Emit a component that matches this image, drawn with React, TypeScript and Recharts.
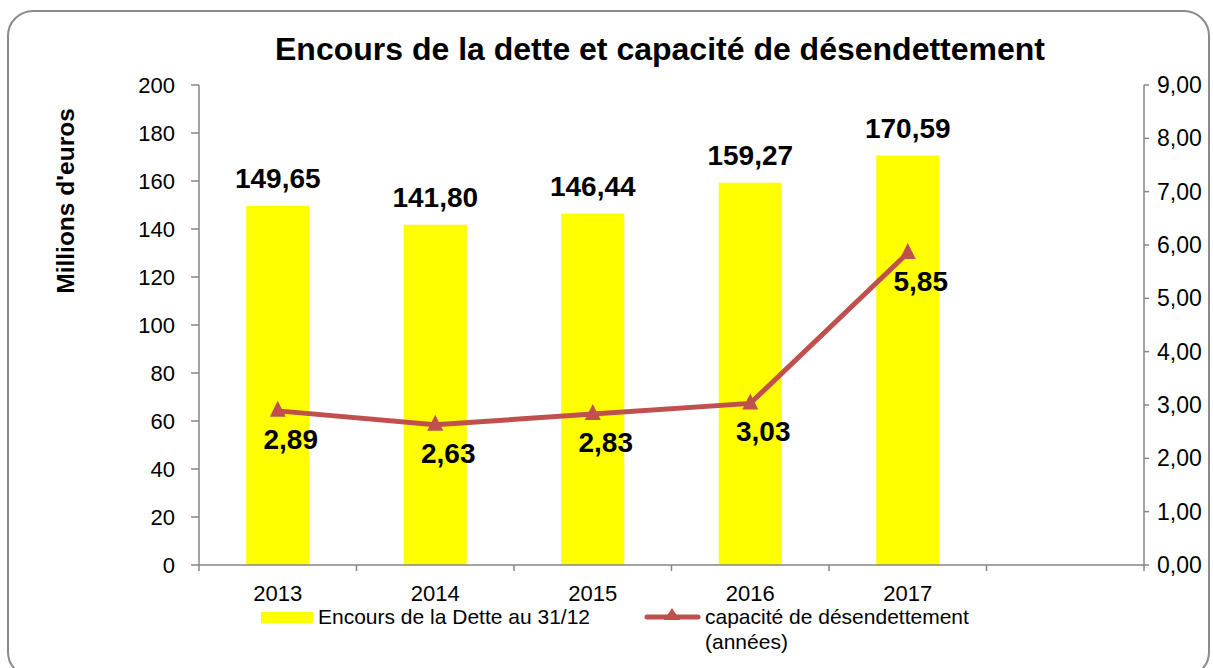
import { ComposedChart, Bar, Line, XAxis, YAxis, LabelList, Legend } from "recharts";

const years = ["2013", "2014", "2015", "2016", "2017", ""];
const encours = [149.65, 141.8, 146.44, 159.27, 170.59, null];
const capacite = [2.89, 2.63, 2.83, 3.03, 5.85, null];
const leftTicks = [0, 20, 40, 60, 80, 100, 120, 140, 160, 180, 200];
const rightTicks = [0, 1, 2, 3, 4, 5, 6, 7, 8, 9];

const data = years.map((year, i) => ({
  year,
  encours: encours[i],
  capacite: capacite[i],
}));

const FONT = "'Liberation Sans', Arial, sans-serif";
const AXIS = "#868686";
const RED = "#C0504D";
const YELLOW = "#FFFF00";

const fmt = (v: number | null | undefined) =>
  v == null ? "" : Number(v).toFixed(2).replace(".", ",");

// x ticks sit between the categories, like Excel
function YearTick(props: any) {
  const { x, y, payload, index, visibleTicksCount, width } = props;
  const half = payload?.offset ?? (width ?? 945) / (visibleTicksCount ?? 6) / 2;
  const last = index === (visibleTicksCount ?? 6) - 1;
  return (
    <g>
      <line x1={x - half} x2={x - half} y1={y} y2={y + 6} stroke={AXIS} strokeWidth={1.5} />
      {last && (
        <line x1={x + half} x2={x + half} y1={y} y2={y + 6} stroke={AXIS} strokeWidth={1.5} />
      )}
      <text x={x} y={y + 36} textAnchor="middle" fontSize={22} fontFamily={FONT} fill="#000">
        {payload.value}
      </text>
    </g>
  );
}

function Triangle(props: any) {
  const { cx, cy, payload } = props;
  if (cx == null || cy == null || payload?.capacite == null) return null;
  return <polygon points={`${cx},${cy - 10} ${cx + 8},${cy + 6} ${cx - 8},${cy + 6}`} fill={RED} />;
}

function BarLabel(props: any) {
  const { x, y, width, value } = props;
  if (value == null) return null;
  return (
    <text x={x + width / 2} y={y - 18} textAnchor="middle" fontSize={28} fontWeight="bold" fontFamily={FONT} fill="#000">
      {fmt(value)}
    </text>
  );
}

function LineLabel(props: any) {
  const { x, y, value } = props;
  if (value == null) return null;
  return (
    <text x={x + 13} y={y + 38} textAnchor="middle" fontSize={28} fontWeight="bold" fontFamily={FONT} fill="#000">
      {fmt(value)}
    </text>
  );
}

function ChartLegend() {
  const txt = { position: "absolute" as const, fontSize: 21, lineHeight: "25px", fontFamily: FONT, color: "#000", whiteSpace: "nowrap" as const };
  return (
    <div style={{ position: "relative", height: 60 }}>
      <svg style={{ position: "absolute", left: 0, top: 0 }} width={1213} height={60}>
        <rect x={261} y={12} width={52} height={11} fill={YELLOW} />
        <line x1={647} x2={698} y1={17} y2={17} stroke={RED} strokeWidth={5} strokeLinecap="round" />
        <polygon points="672,8 680,20 664,20" fill={RED} />
      </svg>
      <div style={{ ...txt, left: 318, top: 4 }}>Encours de la Dette au 31/12</div>
      <div style={{ ...txt, left: 705, top: 4 }}>
        capacité de désendettement
        <br />
        (années)
      </div>
    </div>
  );
}

export default function App() {
  return (
    <div style={{ position: "absolute", left: 0, top: 0, width: 1213, height: 668, overflow: "hidden", background: "#fff", fontFamily: FONT }}>
      <div
        style={{
          position: "absolute",
          left: 7,
          top: 10,
          width: 1203,
          height: 668,
          boxSizing: "border-box",
          border: "2px solid #8a8a8a",
          borderRadius: 26,
        }}
      />
      <svg style={{ position: "absolute", left: 0, top: 0 }} width={1213} height={668}>
        <text x={660} y={60} textAnchor="middle" fontSize={32} fontWeight="bold" fontFamily={FONT} fill="#000">
          Encours de la dette et capacité de désendettement
        </text>
        <text x={74} y={201} transform="rotate(-90 74 201)" textAnchor="middle" fontSize={24.5} fontWeight="bold" fontFamily={FONT} fill="#000">
          Millions d'euros
        </text>
      </svg>
      <div style={{ position: "absolute", left: 0, top: 0 }}>
        <ComposedChart
          width={1213}
          height={668}
          data={data}
          margin={{ top: 85, right: 0, bottom: 63, left: 119 }}
          barCategoryGap="30%"
        >
          <XAxis
            dataKey="year"
            interval={0}
            height={40}
            tickLine={false}
            tickSize={0}
            tickMargin={0}
            axisLine={{ stroke: AXIS, strokeWidth: 1.5 }}
            tick={<YearTick />}
          />
          <YAxis
            yAxisId="left"
            domain={[0, 200]}
            ticks={leftTicks}
            width={80}
            tickSize={8}
            tickMargin={16}
            axisLine={{ stroke: AXIS, strokeWidth: 1.5 }}
            tickLine={{ stroke: AXIS, strokeWidth: 1.5 }}
            tick={{ fill: "#000", fontSize: 22, fontFamily: FONT }}
          />
          <YAxis
            yAxisId="right"
            orientation="right"
            domain={[0, 9]}
            ticks={rightTicks}
            width={69}
            tickSize={5}
            tickMargin={8}
            tickFormatter={(v: number) => fmt(v)}
            axisLine={{ stroke: AXIS, strokeWidth: 1.5 }}
            tickLine={{ stroke: AXIS, strokeWidth: 1.5 }}
            tick={{ fill: "#000", fontSize: 23, fontFamily: FONT }}
          />
          <Legend
            layout="horizontal"
            verticalAlign="middle"
            align="center"
            wrapperStyle={{ left: 0, top: 600, width: 1213 }}
            content={() => <ChartLegend />}
          />
          <Bar yAxisId="left" dataKey="encours" fill={YELLOW} isAnimationActive={false}>
            <LabelList dataKey="encours" content={<BarLabel />} />
          </Bar>
          <Line
            yAxisId="right"
            dataKey="capacite"
            stroke={RED}
            strokeWidth={5}
            dot={<Triangle />}
            activeDot={false}
            isAnimationActive={false}
          >
            <LabelList dataKey="capacite" content={<LineLabel />} />
          </Line>
        </ComposedChart>
      </div>
    </div>
  );
}
